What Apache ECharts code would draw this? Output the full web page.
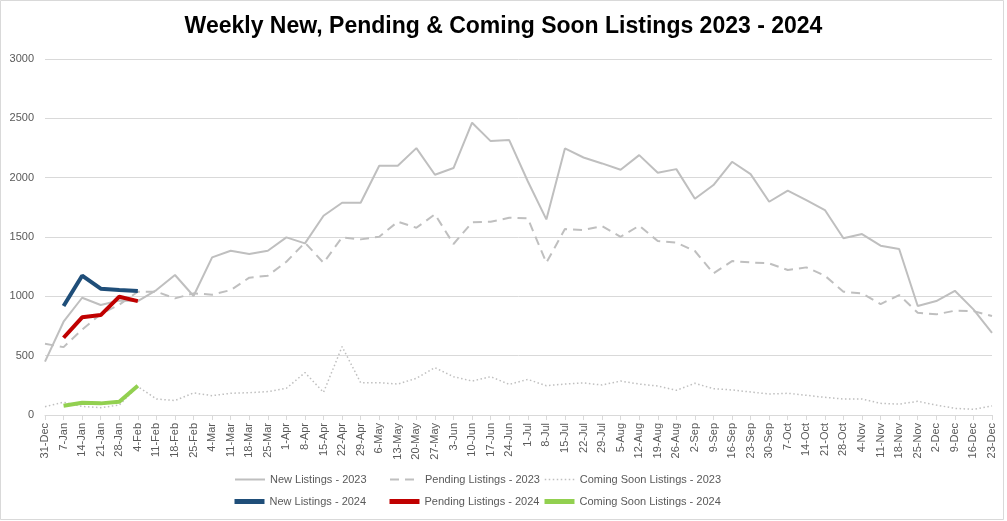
<!DOCTYPE html>
<html>
<head>
<meta charset="utf-8">
<script src="https://cdn.jsdelivr.net/npm/echarts@6/dist/echarts.min.js"></script>
<style>
html,body{margin:0;padding:0;background:#fff;}
#chart{width:1007px;height:521px;}
</style>
</head>
<body>
<div id="chart"></div>
<script>
var categories = ['31-Dec','7-Jan','14-Jan','21-Jan','28-Jan','4-Feb','11-Feb','18-Feb','25-Feb','4-Mar','11-Mar','18-Mar','25-Mar','1-Apr','8-Apr','15-Apr','22-Apr','29-Apr','6-May','13-May','20-May','27-May','3-Jun','10-Jun','17-Jun','24-Jun','1-Jul','8-Jul','15-Jul','22-Jul','29-Jul','5-Aug','12-Aug','19-Aug','26-Aug','2-Sep','9-Sep','16-Sep','23-Sep','30-Sep','7-Oct','14-Oct','21-Oct','28-Oct','4-Nov','11-Nov','18-Nov','25-Nov','2-Dec','9-Dec','16-Dec','23-Dec'];

var newListings2023 = [450,786,988,927,965,960,1053,1180,1003,1328,1384,1356,1384,1497,1446,1679,1789,1789,2101,2101,2249,2025,2081,2463,2308,2317,1970,1648,2246,2170,2120,2067,2190,2041,2072,1822,1938,2134,2030,1797,1890,1811,1727,1489,1525,1427,1399,918,960,1047,890,693];

var pendingListings2023 = [600,572,720,850,930,1039,1039,983,1025,1014,1053,1157,1174,1292,1452,1283,1497,1480,1502,1629,1578,1691,1441,1623,1629,1662,1657,1283,1567,1559,1592,1502,1595,1466,1452,1382,1194,1297,1286,1278,1222,1244,1174,1039,1025,935,1011,862,848,879,876,834];

var comingSoon2023 = [70,108,72,62,84,240,135,122,186,163,183,188,197,225,357,191,576,272,272,261,309,399,323,286,323,258,300,247,261,270,253,286,261,244,208,267,222,211,194,177,183,166,149,135,135,98,92,115,84,56,48,76];

var newListings2024 = [null,918,1174,1064,1053,1045];
var pendingListings2024 = [null,651,823,842,997,960];
var comingSoon2024 = [null,78,104,98,112,247];

var yTicks = [0,500,1000,1500,2000,2500,3000];

var FONT = "'Liberation Sans Narrow','Liberation Sans',sans-serif";
var GRAY = '#bfbfbf';

var chart = echarts.init(document.getElementById('chart'), null, {renderer:'canvas'});

function legendAt(name, left, top, lw){
  return {
    data:[name], left:left, top:top, orient:'horizontal',
    itemWidth:30, itemHeight:10, itemGap:4, padding:0,
    itemStyle:{opacity:0, color:'rgba(0,0,0,0)', borderWidth:0},
    lineStyle:{width:lw},
    textStyle:{color:'#595959', fontSize:11, fontFamily:FONT}
  };
}

var option = {
  backgroundColor:'#fff',
  animation:false,
  title:{
    text:'Weekly New, Pending & Coming Soon Listings 2023 - 2024',
    left:'center', top:10,
    textStyle:{fontFamily:"'Liberation Sans',sans-serif", fontWeight:'bold', fontSize:23, color:'#000'}
  },
  legend:[
    legendAt('New Listings - 2023',234,474,2),
    legendAt('Pending Listings - 2023',389,474,2),
    legendAt('Coming Soon Listings - 2023',544,474,1.5),
    legendAt('New Listings - 2024',232,496,5),
    legendAt('Pending Listings - 2024',387,496,5),
    legendAt('Coming Soon Listings - 2024',542,496,5)
  ],
  grid:{left:45, right:15, top:59, bottom:106, containLabel:false},
  xAxis:{
    type:'category', data:categories, boundaryGap:false,
    axisLine:{lineStyle:{color:'#d9d9d9', width:1}},
    axisTick:{show:true, interval:0, length:5, lineStyle:{color:'#d9d9d9'}},
    axisLabel:{interval:0, rotate:90, color:'#595959', fontSize:11, fontFamily:FONT, margin:8}
  },
  yAxis:{
    type:'value', min:yTicks[0], max:yTicks[yTicks.length-1], interval:500,
    axisLine:{show:false}, axisTick:{show:false},
    axisLabel:{color:'#595959', fontSize:11, fontFamily:FONT, margin:11, formatter:function(v){return String(v);}},
    splitLine:{lineStyle:{color:'#d9d9d9', width:1}}
  },
  graphic:[{
    type:'rect', shape:{x:0.5, y:0.5, width:1003, height:519},
    style:{fill:null, stroke:'#d9d9d9', lineWidth:1}, silent:true, z:-1
  }],
  series:[
    {name:'New Listings - 2023', type:'line', data:newListings2023, symbol:'none', showSymbol:false,
     lineStyle:{color:GRAY, width:2}, itemStyle:{color:GRAY}, z:2},
    {name:'Pending Listings - 2023', type:'line', data:pendingListings2023, symbol:'none', showSymbol:false,
     lineStyle:{color:GRAY, width:2, type:[9,6]}, itemStyle:{color:GRAY}, z:2},
    {name:'Coming Soon Listings - 2023', type:'line', data:comingSoon2023, symbol:'none', showSymbol:false,
     lineStyle:{color:GRAY, width:1.5, type:[1.5,2.5]}, itemStyle:{color:GRAY}, z:2},
    {name:'New Listings - 2024', type:'line', data:newListings2024, symbol:'none', showSymbol:false,
     lineStyle:{color:'#1f4e79', width:4}, itemStyle:{color:'#1f4e79'}, z:3},
    {name:'Pending Listings - 2024', type:'line', data:pendingListings2024, symbol:'none', showSymbol:false,
     lineStyle:{color:'#c00000', width:4}, itemStyle:{color:'#c00000'}, z:3},
    {name:'Coming Soon Listings - 2024', type:'line', data:comingSoon2024, symbol:'none', showSymbol:false,
     lineStyle:{color:'#92d050', width:4}, itemStyle:{color:'#92d050'}, z:3}
  ]
};
chart.setOption(option);
</script>
</body>
</html>
